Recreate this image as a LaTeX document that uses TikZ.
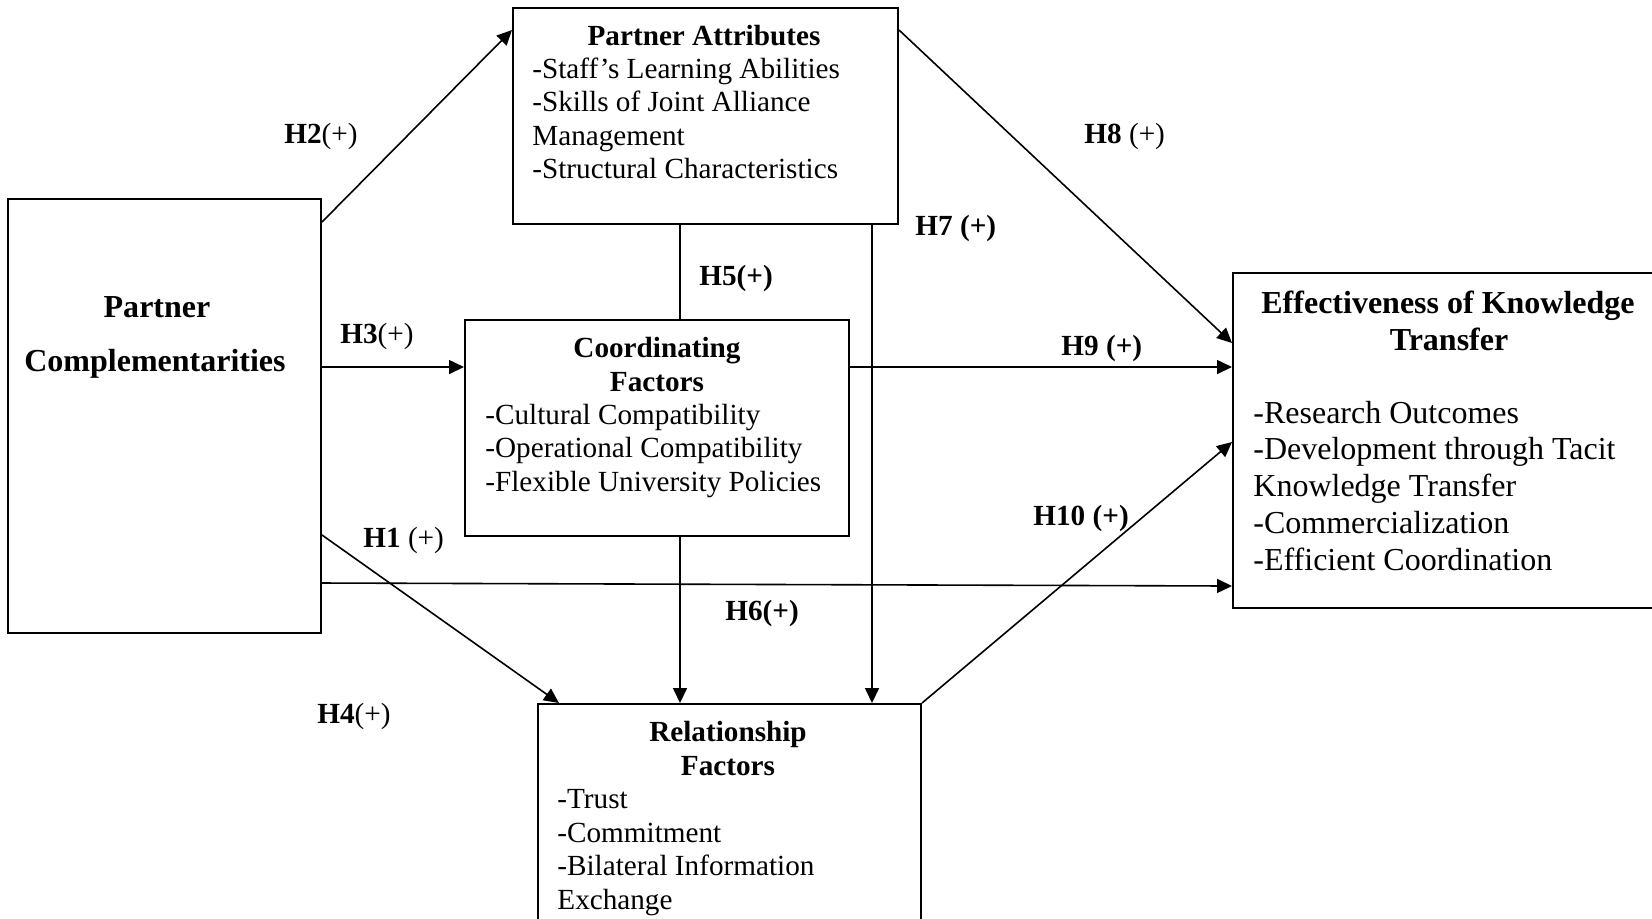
\documentclass[tikz,border=0pt]{standalone}
\usepackage{fontspec}
\setmainfont{Liberation Serif}
\usetikzlibrary{arrows.meta,calc}
\begin{document}
\begin{tikzpicture}[x=0.5pt,y=-0.5pt,
  font=\fontsize{14.6pt}{16.8pt}\selectfont,
  box/.style={draw, line width=1pt, inner sep=0pt, anchor=north west},
  txt/.style={inner sep=0pt, anchor=base west},
  btxt/.style={inner sep=0pt, anchor=base west, font=\fontsize{16pt}{18pt}\selectfont},
  hd/.style={inner sep=0pt, anchor=base, font=\fontsize{14.6pt}{16.8pt}\selectfont\bfseries},
  bhd/.style={inner sep=0pt, anchor=base, font=\fontsize{16pt}{18pt}\selectfont\bfseries},
  lab/.style={inner sep=0pt, anchor=base west},
  ln/.style={line width=0.8pt},
  arr/.style={line width=0.8pt, -{Triangle[length=7.5pt,width=7pt]}}]
\useasboundingbox (0,0) rectangle (1652,918);
\fill[white] (0,0) rectangle (1652,918);
\clip (0,0) rectangle (1652,918);

% boxes
\node[box, minimum width=156.5pt, minimum height=217pt] (pc) at (7,198) {};
\node[box, minimum width=192.5pt, minimum height=108pt] (pa) at (512,7) {};
\node[box, minimum width=192pt, minimum height=108pt] (cf) at (464,319) {};
\node[box, minimum width=191.5pt, minimum height=138.5pt] (rf) at (537,703) {};
\node[box, minimum width=234pt, minimum height=167.5pt] (ekt) at (1232,272) {};

% Partner Complementarities
\node[bhd] (pc1) at (157,317) {Partner};
\node[bhd] (pc2) at (155,371) {Complementarities};

% Partner Attributes
\node[hd] (pa0) at (704,45) {Partner Attributes};
\node[txt] (pa1) at (532,78) {-Staff’s Learning Abilities};
\node[txt] (pa2) at (532,111) {-Skills of Joint Alliance};
\node[txt] (pa3) at (532,145) {Management};
\node[txt] (pa4) at (532,178) {-Structural Characteristics};

% Coordinating Factors
\node[hd] (cf0) at (657,357) {Coordinating};
\node[hd] (cf1) at (657,391) {Factors};
\node[txt] (cf2) at (485,424) {-Cultural Compatibility};
\node[txt] (cf3) at (485,457) {-Operational Compatibility};
\node[txt] (cf4) at (485,491) {-Flexible University Policies};

% Relationship Factors
\node[hd] (rf0) at (728,741) {Relationship};
\node[hd] (rf1) at (728,775) {Factors};
\node[txt] (rf2) at (557,808) {-Trust};
\node[txt] (rf3) at (557,842) {-Commitment};
\node[txt] (rf4) at (557,875) {-Bilateral Information};
\node[txt] (rf5) at (557,909) {Exchange};

% Effectiveness of Knowledge Transfer
\node[bhd] (ek0) at (1448,313) {Effectiveness of Knowledge};
\node[bhd] (ek1) at (1449,350) {Transfer};
\node[btxt] (ek2) at (1253,423) {-Research Outcomes};
\node[btxt] (ek3) at (1253,459) {-Development through Tacit};
\node[btxt] (ek4) at (1253,496) {Knowledge Transfer};
\node[btxt] (ek5) at (1253,533) {-Commercialization};
\node[btxt] (ek6) at (1253,570) {-Efficient Coordination};

% connectors
\draw[arr] ($(pc.north east)+(0,24)$) -- ($(pa.north west)+(0,23)$);   % H2
\draw[arr] ($(pc.north east)+(0,169)$) -- ($(cf.north west)+(0,48)$);  % H3
\draw[arr] ($(pc.north east)+(0,337)$) -- ($(rf.north west)+(22,0)$);  % H1
\draw[arr] ($(pc.north east)+(0,385)$) -- ($(ekt.north west)+(0,314)$); % H4
\draw[ln]  ($(pa.south west)+(168,0)$) -- ($(cf.north west)+(216,0)$); % H5
\draw[arr] ($(cf.south west)+(216,0)$) -- ($(rf.north west)+(143,0)$); % H6
\draw[arr] ($(pa.south west)+(360,0)$) -- ($(rf.north west)+(335,0)$); % H7
\draw[arr] ($(pa.north east)+(0,23)$) -- ($(ekt.north west)+(0,71)$);  % H8
\draw[arr] ($(cf.north east)+(0,48)$) -- ($(ekt.north west)+(0,95)$);  % H9
\draw[arr] (rf.north east) -- ($(ekt.north west)+(0,170)$);            % H10

% labels
\node[lab] (l2) at (284,143) {\textbf{H2}(+)};
\node[lab] (l3) at (340,343) {\textbf{H3}(+)};
\node[lab] (l1) at (363,547) {\textbf{H1} (+)};
\node[lab] (l4) at (317,723) {\textbf{H4}(+)};
\node[lab] (l5) at (699,285) {\textbf{H5(+)}};
\node[lab] (l6) at (725,620) {\textbf{H6(+)}};
\node[lab] (l7) at (915,235) {\textbf{H7 (+)}};
\node[lab] (l8) at (1084,143) {\textbf{H8} (+)};
\node[lab] (l9) at (1061,355) {\textbf{H9 (+)}};
\node[lab] (l10) at (1033,525) {\textbf{H10 (+)}};
\end{tikzpicture}
\end{document}
